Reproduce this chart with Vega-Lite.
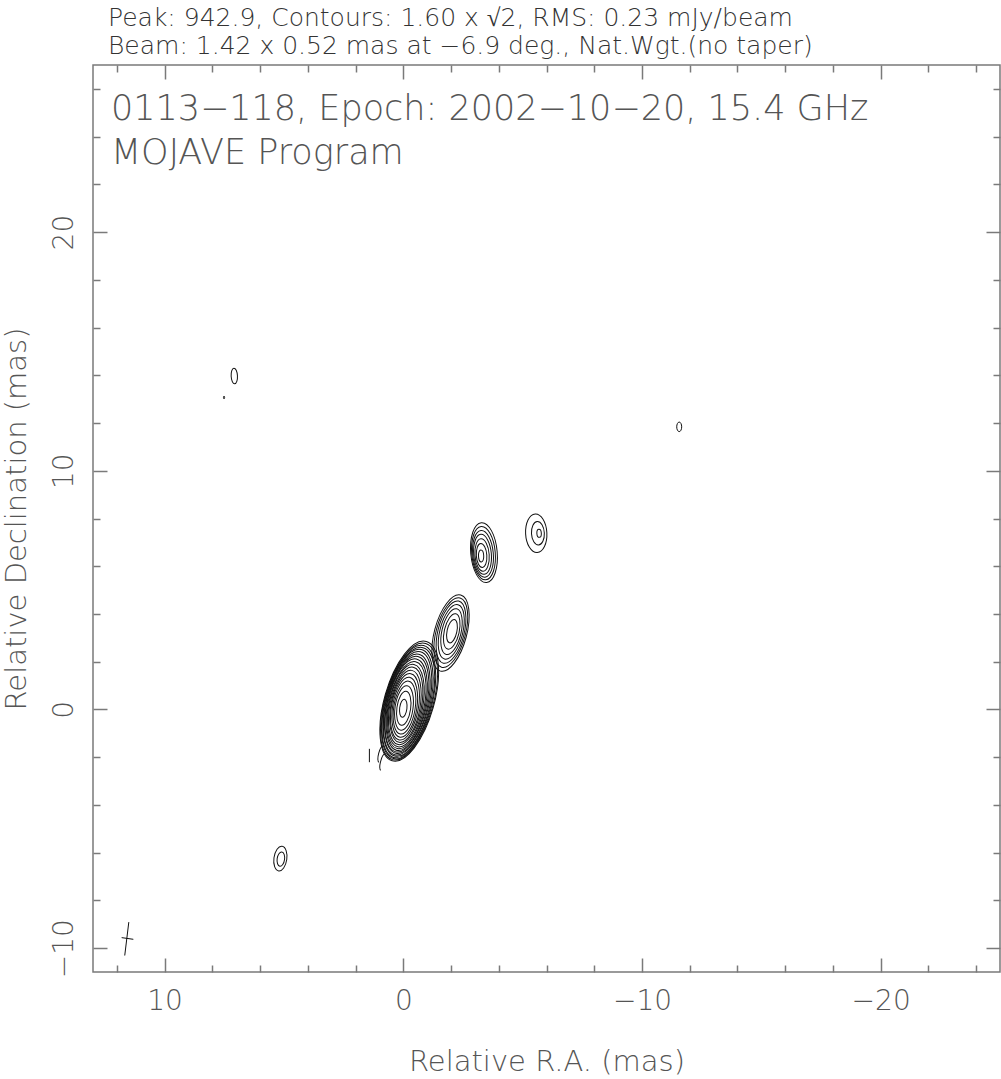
{
  "$schema": "https://vega.github.io/schema/vega-lite/v6.json",
  "width": 907,
  "height": 907,
  "autosize": {"type": "none"},
  "padding": {"left": 93, "top": 65, "right": 1, "bottom": 107},
  "background": "white",
  "config": {
    "font": "DejaVu Sans",
    "view": {"stroke": "#7a7a7a", "strokeWidth": 1.5},
    "axis": {
      "grid": false,
      "domain": false,
      "tickColor": "#7a7a7a",
      "tickWidth": 1.5,
      "labelColor": "#555555",
      "titleColor": "#555555",
      "labelFont": "DejaVu Sans",
      "titleFont": "DejaVu Sans",
      "labelFontWeight": 200,
      "titleFontWeight": 200,
      "labelFontSize": 28,
      "titleFontSize": 29
    }
  },
  "title": {
    "text": ["Peak: 942.9, Contours: 1.60 x √2, RMS: 0.23 mJy/beam", "Beam: 1.42 x 0.52 mas at −6.9 deg., Nat.Wgt.(no taper)"],
    "anchor": "start",
    "frame": "group",
    "dx": 15,
    "fontSize": 25,
    "fontWeight": 200,
    "font": "DejaVu Sans",
    "color": "#333333",
    "lineHeight": 28,
    "offset": 5
  },
  "layer": [
    {
      "data": {"values": [
        {"comp": "core", "x": -0.25, "y": 0.35, "a": 2.60, "pa": 16},
        {"comp": "core", "x": -0.24, "y": 0.33, "a": 2.53, "pa": 16},
        {"comp": "core", "x": -0.22, "y": 0.31, "a": 2.45, "pa": 15},
        {"comp": "core", "x": -0.21, "y": 0.29, "a": 2.38, "pa": 15},
        {"comp": "core", "x": -0.20, "y": 0.28, "a": 2.30, "pa": 14},
        {"comp": "core", "x": -0.18, "y": 0.26, "a": 2.22, "pa": 14},
        {"comp": "core", "x": -0.17, "y": 0.24, "a": 2.13, "pa": 13},
        {"comp": "core", "x": -0.15, "y": 0.22, "a": 2.05, "pa": 13},
        {"comp": "core", "x": -0.14, "y": 0.20, "a": 1.96, "pa": 12},
        {"comp": "core", "x": -0.13, "y": 0.18, "a": 1.86, "pa": 12},
        {"comp": "core", "x": -0.11, "y": 0.16, "a": 1.76, "pa": 11},
        {"comp": "core", "x": -0.10, "y": 0.15, "a": 1.65, "pa": 11},
        {"comp": "core", "x": -0.09, "y": 0.13, "a": 1.53, "pa": 10},
        {"comp": "core", "x": -0.07, "y": 0.11, "a": 1.41, "pa": 10},
        {"comp": "core", "x": -0.06, "y": 0.09, "a": 1.27, "pa": 9},
        {"comp": "core", "x": -0.05, "y": 0.08, "a": 1.12, "pa": 9},
        {"comp": "core", "x": -0.03, "y": 0.06, "a": 0.94, "pa": 8},
        {"comp": "core", "x": -0.02, "y": 0.05, "a": 0.72, "pa": 8},
        {"comp": "core", "x": 0.00, "y": 0.05, "a": 0.38, "pa": 7},
        {"comp": "jet", "x": -1.98, "y": 3.20, "a": 1.65, "pa": 15},
        {"comp": "jet", "x": -1.99, "y": 3.22, "a": 1.50, "pa": 15},
        {"comp": "jet", "x": -2.00, "y": 3.24, "a": 1.34, "pa": 14},
        {"comp": "jet", "x": -2.01, "y": 3.25, "a": 1.17, "pa": 14},
        {"comp": "jet", "x": -2.02, "y": 3.26, "a": 0.98, "pa": 13},
        {"comp": "jet", "x": -2.03, "y": 3.27, "a": 0.76, "pa": 13},
        {"comp": "jet", "x": -2.04, "y": 3.28, "a": 0.50, "pa": 12},
        {"comp": "b", "x": -3.38, "y": 6.57, "a": 1.26, "pa": -5},
        {"comp": "b", "x": -3.36, "y": 6.55, "a": 1.12, "pa": -5},
        {"comp": "b", "x": -3.34, "y": 6.52, "a": 0.98, "pa": -5},
        {"comp": "b", "x": -3.32, "y": 6.50, "a": 0.84, "pa": -5},
        {"comp": "b", "x": -3.30, "y": 6.47, "a": 0.68, "pa": -4},
        {"comp": "b", "x": -3.28, "y": 6.45, "a": 0.50, "pa": -4},
        {"comp": "b", "x": -3.26, "y": 6.43, "a": 0.25, "pa": -3},
        {"comp": "c", "x": -5.57, "y": 7.38, "a": 0.81, "pa": -3},
        {"comp": "c", "x": -5.64, "y": 7.38, "a": 0.49, "pa": -3},
        {"comp": "c", "x": -5.69, "y": 7.38, "a": 0.17, "pa": -3},
        {"comp": "d", "x": 7.08, "y": 13.97, "a": 0.33, "pa": -3},
        {"comp": "d", "x": 7.51, "y": 13.07, "a": 0.06, "pa": 0},
        {"comp": "e", "x": -11.56, "y": 11.84, "a": 0.20, "pa": 0},
        {"comp": "f", "x": 5.15, "y": -6.25, "a": 0.52, "pa": 8},
        {"comp": "f", "x": 5.13, "y": -6.27, "a": 0.30, "pa": 8},
        {"comp": "neg", "x": 0.93, "y": -1.87, "a": 0.35, "pa": 15},
        {"comp": "neg", "x": 0.85, "y": -2.21, "a": 0.35, "pa": 15},
        {"comp": "negl", "x": 1.42, "y": -1.93, "a": 0.28, "pa": 0}
      ]},
      "mark": {"type": "point", "filled": false, "stroke": "#111111", "strokeWidth": 1, "opacity": 1},
      "encoding": {
        "x": {
          "field": "x", "type": "quantitative",
          "scale": {"domain": [-25, 13], "reverse": true, "nice": false, "zero": false},
          "axis": {
            "orient": "bottom",
            "values": [-24, -22, -20, -18, -16, -14, -12, -10, -8, -6, -4, -2, 0, 2, 4, 6, 8, 10, 12],
            "tickSize": {"condition": {"test": "datum.value % 10 === 0", "value": -14}, "value": -7},
            "labelExpr": "datum.value % 10 === 0 ? datum.label : ''",
            "labelPadding": 29,
            "labelFlush": false,
            "labelOverlap": false,
            "title": "Relative R.A. (mas)",
            "titleY": 98,
            "titleBaseline": "alphabetic"
          }
        },
        "y": {
          "field": "y", "type": "quantitative",
          "scale": {"domain": [-11, 27], "nice": false, "zero": false},
          "axis": {
            "orient": "left",
            "values": [-10, -8, -6, -4, -2, 0, 2, 4, 6, 8, 10, 12, 14, 16, 18, 20, 22, 24, 26],
            "tickSize": {"condition": {"test": "datum.value % 10 === 0", "value": -14}, "value": -7},
            "labelExpr": "datum.value % 10 === 0 ? datum.label : ''",
            "labelAngle": 270,
            "labelAlign": "center",
            "labelBaseline": "alphabetic",
            "labelPadding": 35,
            "labelFlush": false,
            "labelOverlap": false,
            "title": "Relative Declination (mas)",
            "titleAngle": 270,
            "titleX": -68,
            "titleBaseline": "alphabetic"
          }
        },
        "size": {
          "field": "a", "type": "quantitative",
          "scale": {"type": "pow", "exponent": 2, "domain": [0, 10], "range": [0, 227880]},
          "legend": null
        },
        "shape": {
          "field": "comp", "type": "nominal",
          "scale": {
            "domain": ["core", "jet", "b", "c", "d", "e", "f", "neg", "negl"],
            "range": [
              "M0,-1A0.4,1,0,1,1,0,1A0.4,1,0,1,1,0,-1Z",
              "M0,-1A0.41,1,0,1,1,0,1A0.41,1,0,1,1,0,-1Z",
              "M0,-1A0.44,1,0,1,1,0,1A0.44,1,0,1,1,0,-1Z",
              "M0,-1A0.55,1,0,1,1,0,1A0.55,1,0,1,1,0,-1Z",
              "M0,-1A0.4,1,0,1,1,0,1A0.4,1,0,1,1,0,-1Z",
              "M0,-1A0.52,1,0,1,1,0,1A0.52,1,0,1,1,0,-1Z",
              "M0,-1A0.52,1,0,1,1,0,1A0.52,1,0,1,1,0,-1Z",
              "M0,-1A0.3,1,0,0,0,0,1",
              "M0,-1L0,1"
            ]
          },
          "legend": null
        },
        "angle": {"field": "pa", "type": "quantitative", "scale": null}
      }
    },
    {
      "data": {"values": [
        {"x": 11.50, "y": -8.91, "x2": 11.67, "y2": -10.31},
        {"x": 11.80, "y": -9.56, "x2": 11.31, "y2": -9.63}
      ]},
      "mark": {"type": "rule", "color": "#111111", "strokeWidth": 1},
      "encoding": {
        "x": {
          "field": "x", "type": "quantitative",
          "scale": {"domain": [-25, 13], "reverse": true, "nice": false, "zero": false},
          "axis": {
            "orient": "top",
            "values": [-24, -22, -20, -18, -16, -14, -12, -10, -8, -6, -4, -2, 0, 2, 4, 6, 8, 10, 12],
            "tickSize": {"condition": {"test": "datum.value % 10 === 0", "value": -14}, "value": -7},
            "labels": false,
            "title": null
          }
        },
        "y": {
          "field": "y", "type": "quantitative",
          "scale": {"domain": [-11, 27], "nice": false, "zero": false},
          "axis": {
            "orient": "right",
            "values": [-10, -8, -6, -4, -2, 0, 2, 4, 6, 8, 10, 12, 14, 16, 18, 20, 22, 24, 26],
            "tickSize": {"condition": {"test": "datum.value % 10 === 0", "value": -14}, "value": -7},
            "labels": false,
            "title": null
          }
        },
        "x2": {"field": "x2"},
        "y2": {"field": "y2"}
      }
    },
    {
      "data": {"values": [
        {"x": 12.25, "y": 24.71, "label": "0113−118, Epoch: 2002−10−20, 15.4 GHz"},
        {"x": 12.25, "y": 22.87, "label": "MOJAVE Program"}
      ]},
      "mark": {"type": "text", "align": "left", "baseline": "alphabetic", "fontSize": 35, "fontWeight": 200, "font": "DejaVu Sans", "color": "#555555"},
      "encoding": {
        "x": {"field": "x", "type": "quantitative", "scale": {"domain": [-25, 13], "reverse": true, "nice": false, "zero": false}, "axis": null},
        "y": {"field": "y", "type": "quantitative", "scale": {"domain": [-11, 27], "nice": false, "zero": false}, "axis": null},
        "text": {"field": "label", "type": "nominal"}
      }
    }
  ],
  "resolve": {"axis": {"x": "independent", "y": "independent"}}
}
